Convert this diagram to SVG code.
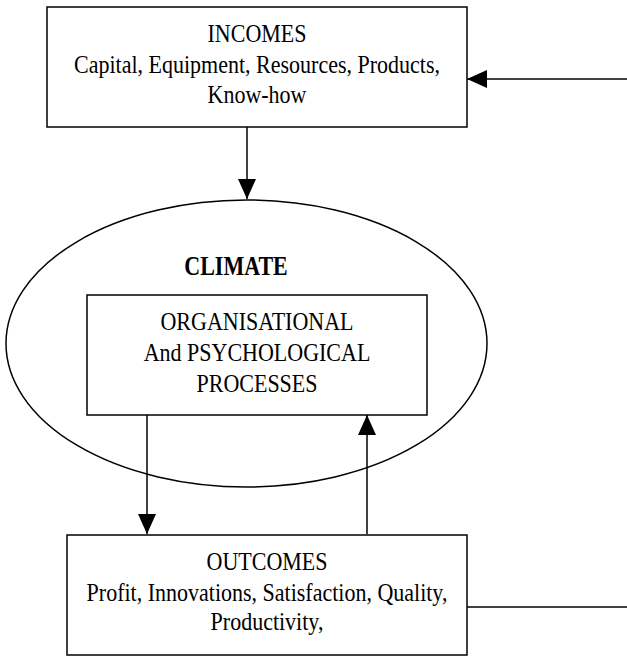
<svg xmlns="http://www.w3.org/2000/svg" width="627" height="657" viewBox="0 0 627 657">
<style>
.box{fill:#fff;stroke:#000;stroke-width:1.5}
.t{font-family:"Liberation Serif","Times New Roman",serif;font-size:22px;fill:#000;text-anchor:middle}
.b{font-weight:bold}
.c{stroke:#000;stroke-width:1.5;fill:none}
</style>
<defs>
<marker id="ah" viewBox="0 0 20 18" refX="20" refY="9" markerWidth="20" markerHeight="18" markerUnits="userSpaceOnUse" orient="auto">
<path d="M0,0 L20,9 L0,18 Z" fill="#000"/>
</marker>
</defs>
<g id="climate">
<ellipse cx="246.5" cy="343.5" rx="240.5" ry="143.5" fill="#fff" stroke="#000" stroke-width="1.5"/>
<text class="t b" transform="translate(236,275) scale(1,1.2)">CLIMATE</text>
</g>
<g id="incomes">
<rect class="box" x="47" y="7" width="420" height="120"/>
<text class="t" transform="translate(257,42) scale(1,1.17)">INCOMES</text>
<text class="t" transform="translate(257,73) scale(1,1.17)">Capital, Equipment, Resources, Products,</text>
<text class="t" transform="translate(257,103) scale(1,1.17)">Know-how</text>
</g>
<g id="processes">
<rect class="box" x="87" y="295" width="340" height="120"/>
<text class="t" transform="translate(257,330) scale(1,1.17)">ORGANISATIONAL</text>
<text class="t" transform="translate(257,361) scale(1,1.17)">And PSYCHOLOGICAL</text>
<text class="t" transform="translate(257,392) scale(1,1.17)">PROCESSES</text>
</g>
<g id="outcomes">
<rect class="box" x="67" y="535" width="400" height="120"/>
<text class="t" transform="translate(267,570) scale(1,1.17)">OUTCOMES</text>
<text class="t" transform="translate(267,601) scale(1,1.17)">Profit, Innovations, Satisfaction, Quality,</text>
<text class="t" transform="translate(267,630) scale(1,1.17)">Productivity,</text>
</g>
<g id="connectors">
<line class="c" x1="627" y1="79" x2="467" y2="79" marker-end="url(#ah)"/>
<line class="c" x1="247" y1="127" x2="247" y2="199" marker-end="url(#ah)"/>
<line class="c" x1="147" y1="415" x2="147" y2="534" marker-end="url(#ah)"/>
<line class="c" x1="367" y1="534" x2="367" y2="415" marker-end="url(#ah)"/>
<line class="c" x1="467" y1="607" x2="627" y2="607"/>
</g>
</svg>
